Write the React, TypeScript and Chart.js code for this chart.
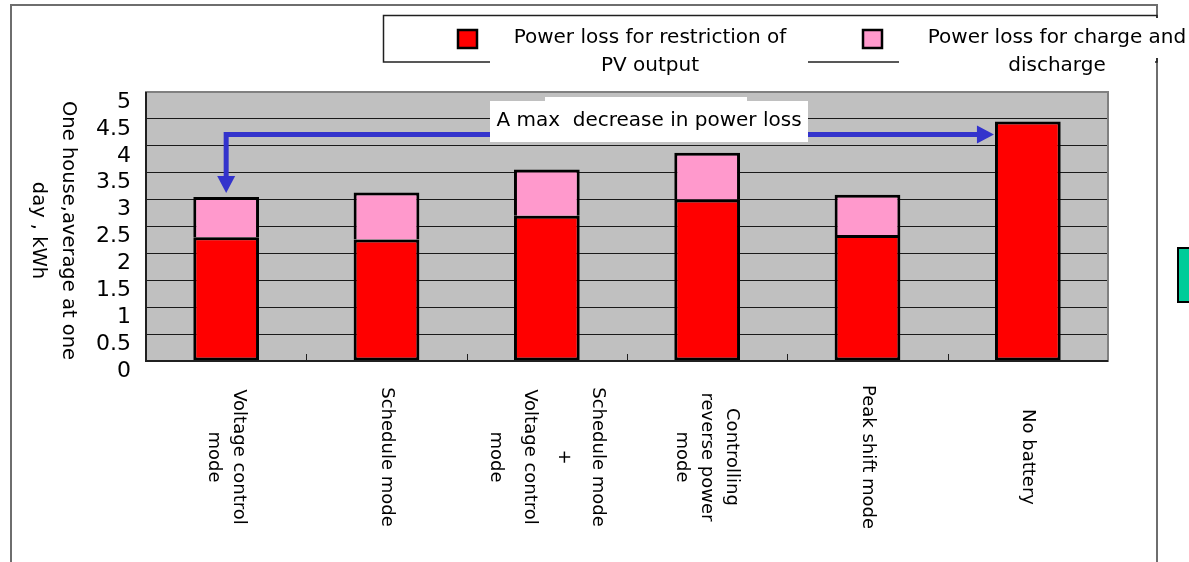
import { useEffect, useRef } from "react";
import { Chart, registerables } from "chart.js";

Chart.register(...registerables);

// Operating modes (each entry is the label split into its printed lines)
const categories: string[][] = [
  ["Voltage control", "mode"],
  ["Schedule mode"],
  ["Schedule mode", "+", "Voltage control", "mode"],
  ["Controlling", "reverse power", "mode"],
  ["Peak shift mode"],
  ["No battery"],
];

// One house, average per day, kWh
const pvRestrictionLoss = [2.3, 2.26, 2.7, 3.0, 2.34, 4.45];
const chargeDischargeLoss = [0.75, 0.87, 0.86, 0.87, 0.75, null];

const seriesNames = [
  ["Power loss for restriction of", "PV output"],
  ["Power loss for charge and", "discharge"],
];
const yTitleLines = ["One house,average at one", "day , kWh"];
const yTickValues = [0, 0.5, 1, 1.5, 2, 2.5, 3, 3.5, 4, 4.5, 5];
const noteText = "A max  decrease in power loss";
const noteArrowLevel = 4.21;

const RED = "#ff0000";
const PINK = "#ff99cc";
const PLOT_BG = "#c0c0c0";
const ARROW = "#3333cc";
const FONT = "'DejaVu Sans', 'Liberation Sans', sans-serif";

const W = 1189;
const H = 562;

const decorPlugin = {
  id: "decor",
  beforeDraw(chart: any) {
    const { ctx, chartArea: a } = chart;
    ctx.save();
    ctx.fillStyle = "#ffffff";
    ctx.fillRect(0, 0, chart.width, chart.height);
    ctx.fillStyle = PLOT_BG;
    ctx.fillRect(a.left, a.top, a.right - a.left, a.bottom - a.top);
    ctx.restore();
  },
  afterDraw(chart: any) {
    const { ctx, chartArea: a } = chart;
    const xs = chart.scales.x;
    const ys = chart.scales.y;
    const metaBottom = chart.getDatasetMeta(0);
    ctx.save();

    // plot frame
    ctx.lineWidth = 2;
    ctx.strokeStyle = "#808080";
    ctx.strokeRect(a.left, a.top, a.right - a.left, a.bottom - a.top);
    ctx.strokeStyle = "#202020";
    ctx.beginPath();
    ctx.moveTo(a.left, a.top);
    ctx.lineTo(a.left, a.bottom);
    ctx.lineTo(a.right, a.bottom);
    ctx.stroke();

    // category dividers on the x axis
    ctx.lineWidth = 1;
    ctx.strokeStyle = "#202020";
    for (let i = 0; i < categories.length - 1; i++) {
      const bx = (xs.getPixelForValue(i) + xs.getPixelForValue(i + 1)) / 2;
      ctx.beginPath();
      ctx.moveTo(Math.round(bx) + 0.5, a.bottom);
      ctx.lineTo(Math.round(bx) + 0.5, a.bottom - 7);
      ctx.stroke();
    }

    // category labels, turned clockwise
    ctx.fillStyle = "#000";
    ctx.font = `18px ${FONT}`;
    ctx.textAlign = "center";
    ctx.textBaseline = "middle";
    categories.forEach((lines, i) => {
      const cx = xs.getPixelForValue(i);
      const lh = lines.length > 3 ? 34 : 25;
      ctx.save();
      ctx.translate(cx, a.bottom + 96);
      ctx.rotate(Math.PI / 2);
      lines.forEach((ln, j) => {
        ctx.fillText(ln, 0, (j - (lines.length - 1) / 2) * lh);
      });
      ctx.restore();
    });

    // y axis title, turned clockwise
    ctx.save();
    ctx.font = `19.5px ${FONT}`;
    ctx.translate(68, (a.top + a.bottom) / 2 + 4);
    ctx.rotate(Math.PI / 2);
    yTitleLines.forEach((ln, j) => ctx.fillText(ln, 0, j * 30));
    ctx.restore();

    // arrow from the first mode to "No battery"
    const first = metaBottom.data[0];
    const last = metaBottom.data[categories.length - 1];
    const firstTop =
      (pvRestrictionLoss[0] ?? 0) + (chargeDischargeLoss[0] ?? 0);
    const x0 = first.x;
    const yLevel = ys.getPixelForValue(noteArrowLevel);
    const tipV = ys.getPixelForValue(firstTop) - 4;
    const tipH = last.x - last.width / 2 - 1;
    const head = 17;
    const half = 9;
    ctx.strokeStyle = ARROW;
    ctx.fillStyle = ARROW;
    ctx.lineWidth = 5;
    ctx.lineJoin = "miter";
    ctx.beginPath();
    ctx.moveTo(x0, tipV - head + 1);
    ctx.lineTo(x0, yLevel);
    ctx.lineTo(tipH - head + 1, yLevel);
    ctx.stroke();
    ctx.beginPath();
    ctx.moveTo(x0, tipV);
    ctx.lineTo(x0 - half, tipV - head);
    ctx.lineTo(x0 + half, tipV - head);
    ctx.closePath();
    ctx.fill();
    ctx.beginPath();
    ctx.moveTo(tipH, yLevel);
    ctx.lineTo(tipH - head, yLevel - half);
    ctx.lineTo(tipH - head, yLevel + half);
    ctx.closePath();
    ctx.fill();

    // note box
    ctx.fillStyle = "#ffffff";
    ctx.fillRect(545, 97, 202, 6);
    ctx.fillRect(490, 101, 318, 41);
    ctx.fillStyle = "#000";
    ctx.font = `20px ${FONT}`;
    ctx.textAlign = "center";
    ctx.textBaseline = "alphabetic";
    ctx.fillText(noteText, 649, 126);

    // outer frame
    ctx.strokeStyle = "#6e6e6e";
    ctx.lineWidth = 2;
    ctx.beginPath();
    ctx.moveTo(11, H);
    ctx.lineTo(11, 5);
    ctx.lineTo(1157, 5);
    ctx.lineTo(1157, H);
    ctx.stroke();

    // legend
    ctx.strokeStyle = "#202020";
    ctx.lineWidth = 1.5;
    ctx.strokeRect(383.5, 15.5, 1157 - 383.5, 62 - 15.5);
    ctx.fillStyle = "#ffffff";
    ctx.fillRect(490, 18, 318, 62);
    ctx.fillRect(899, 18, 256, 62);
    ctx.fillRect(1155, 18, 34, 40);

    const swatches = [
      { x: 458, color: RED, cx: 650 },
      { x: 863, color: PINK, cx: 1057 },
    ];
    swatches.forEach((s, i) => {
      ctx.fillStyle = s.color;
      ctx.fillRect(s.x, 30, 19, 18);
      ctx.strokeStyle = "#000";
      ctx.lineWidth = 2.5;
      ctx.strokeRect(s.x, 30, 19, 18);
      ctx.fillStyle = "#000";
      ctx.font = `20px ${FONT}`;
      ctx.textAlign = "center";
      ctx.textBaseline = "alphabetic";
      seriesNames[i].forEach((ln, j) => ctx.fillText(ln, s.cx, 43 + j * 28));
    });

    // side marker
    ctx.fillStyle = "#00cc99";
    ctx.fillRect(1178, 248, 14, 54);
    ctx.strokeStyle = "#000";
    ctx.lineWidth = 2;
    ctx.strokeRect(1178, 248, 14, 54);

    ctx.restore();
  },
};

export default function App() {
  const ref = useRef<HTMLCanvasElement | null>(null);

  useEffect(() => {
    if (!ref.current) return;
    const barStyle = {
      borderColor: "#000",
      borderSkipped: false as const,
      barPercentage: 0.41,
      categoryPercentage: 1,
    };
    const chart = new Chart(ref.current, {
      type: "bar",
      data: {
        labels: categories,
        datasets: [
          {
            label: seriesNames[0].join(" "),
            data: pvRestrictionLoss,
            backgroundColor: RED,
            borderWidth: 3,
            ...barStyle,
          },
          {
            label: seriesNames[1].join(" "),
            data: chargeDischargeLoss,
            backgroundColor: PINK,
            borderWidth: { top: 3, left: 3, right: 3, bottom: 0 },
            ...barStyle,
          },
        ],
      },
      options: {
        animation: false,
        responsive: false,
        devicePixelRatio: 1,
        layout: { padding: { top: 92, right: 81, bottom: 0, left: 0 } },
        plugins: {
          legend: { display: false },
          tooltip: { enabled: false },
          title: { display: false },
        },
        scales: {
          x: {
            stacked: true,
            grid: { display: false },
            border: { display: false },
            ticks: { display: false },
            afterFit: (s: any) => {
              s.height = 201;
            },
          },
          y: {
            stacked: true,
            min: 0,
            max: 5,
            afterBuildTicks: (s: any) => {
              s.ticks = yTickValues.map((v) => ({ value: v }));
            },
            ticks: {
              color: "#000",
              font: { family: FONT, size: 22 },
              padding: 15,
              labelOffset: 10,
              autoSkip: false,
              callback: (v: any) => String(v),
            },
            grid: { color: "#1a1a1a", lineWidth: 1, drawTicks: false },
            border: { display: false },
            afterFit: (s: any) => {
              s.width = 146;
            },
          },
        },
      } as any,
      plugins: [decorPlugin],
    });
    return () => chart.destroy();
  }, []);

  return (
    <div style={{ position: "absolute", left: 0, top: 0, width: W, height: H }}>
      <canvas ref={ref} width={W} height={H} style={{ display: "block" }} />
    </div>
  );
}
